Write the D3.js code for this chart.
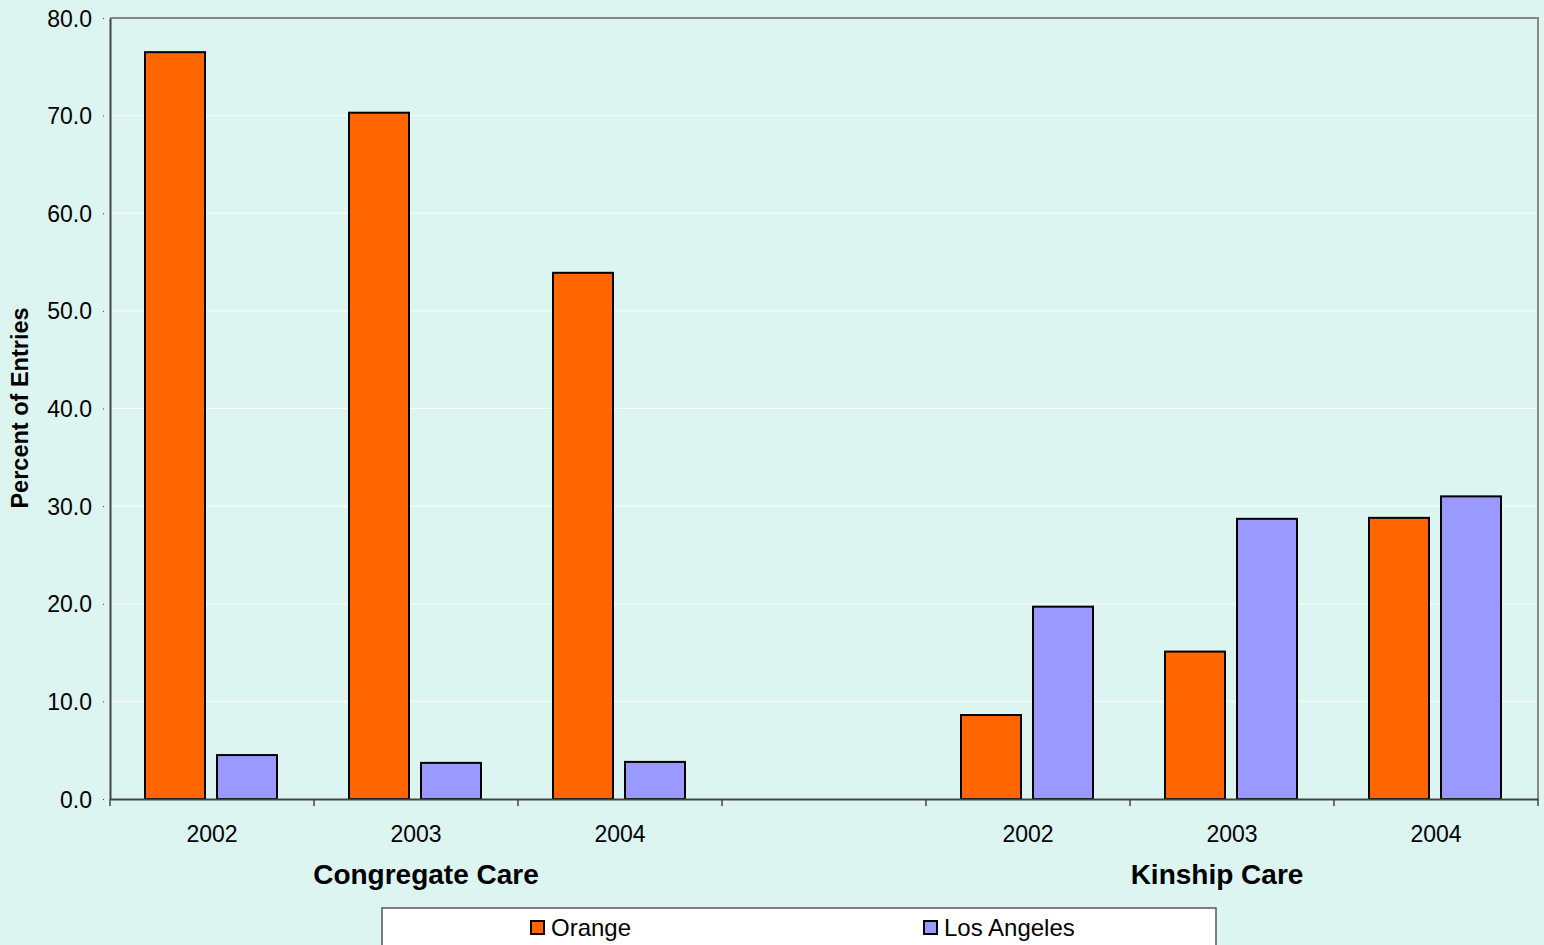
<!DOCTYPE html>
<html><head><meta charset="utf-8">
<script src="https://cdn.jsdelivr.net/npm/d3@7"></script>
<style>body{margin:0;background:#ddf5f1;} svg{display:block;font-family:"Liberation Sans",Arial,sans-serif;}</style>
</head><body>
<svg id="c" width="1544" height="945"></svg>
<script>
const slots = ["c2002","c2003","c2004","gap","k2002","k2003","k2004"];
const slotLabels = ["2002","2003","2004","","2002","2003","2004"];
const groups = ["Congregate Care","Kinship Care"];
const seriesNames = ["Orange","Los Angeles"];
const orangeVals = [76.5, 70.3, 53.9, null, 8.6, 15.1, 28.8];
const laVals = [4.5, 3.7, 3.8, null, 19.7, 28.7, 31.0];
const yTicks = [0,10,20,30,40,50,60,70,80];
const colors = ["#ff6600","#9999ff"];

const svg = d3.select("#c");
const L=110, R=1538, T=18, B=799;
const x = d3.scaleBand().domain(slots).range([L,R]).paddingInner(0).paddingOuter(0);
const y = d3.scaleLinear().domain([0,80]).range([B,T]);

// gridlines
svg.append("g").selectAll("line").data(yTicks.filter(d=>d>0)).join("line")
  .attr("x1",L).attr("x2",R).attr("y1",d=>y(d)).attr("y2",d=>y(d))
  .attr("stroke","#ffffff").attr("stroke-width",1);
// border top/right
svg.append("path").attr("d",`M${L},${T}H${R}V${B}`).attr("fill","none").attr("stroke","#888").attr("stroke-width",2);

// bars
const bw = 60, gap = 12;
const series = [orangeVals, laVals];
series.forEach((vals,si)=>{
  svg.append("g").selectAll("rect").data(slots.map((s,i)=>({s,v:vals[i]})).filter(d=>d.v!=null)).join("rect")
    .attr("x",d=>x(d.s)+x.bandwidth()/2 - (bw+gap/2) + si*(bw+gap) - 1)
    .attr("y",d=>y(d.v)).attr("width",bw).attr("height",d=>y(0)-y(d.v))
    .attr("fill",colors[si]).attr("stroke","#000").attr("stroke-width",2);
});

// y axis
const ya = d3.axisLeft(y).tickValues(yTicks).tickFormat(d3.format(".1f")).tickSize(6).tickSizeOuter(0);
const yg = svg.append("g").attr("transform",`translate(${L},0)`).call(ya);
yg.select(".domain").attr("stroke","#444").attr("stroke-width",2);
yg.selectAll(".tick line").attr("stroke","#444").attr("x1",-7);
yg.selectAll("text").attr("font-size",23).attr("fill","#000").attr("x",-18).attr("dy","0.35em").attr("font-family","Liberation Sans, Arial, sans-serif");

// x axis
const xa = d3.axisBottom(x).tickFormat((d,i)=>slotLabels[i]).tickSize(0);
const xg = svg.append("g").attr("transform",`translate(0,${B})`).call(xa);
xg.select(".domain").attr("stroke","#444").attr("stroke-width",2);
xg.selectAll("text").attr("font-size",23).attr("fill","#000").attr("y",35).attr("dy","0.35em").attr("font-family","Liberation Sans, Arial, sans-serif");
// tick marks at slot boundaries
const bounds = slots.map(s=>x(s)).concat([R]);
svg.append("g").selectAll("line").data(bounds).join("line")
  .attr("x1",d=>d).attr("x2",d=>d).attr("y1",B).attr("y2",B+7).attr("stroke","#444").attr("stroke-width",1.5);

// group labels
const groupCenters = [(x("c2002")+x("gap"))/2+10, (x("k2002")+R)/2 - 15];
svg.append("g").selectAll("text").data(groups).join("text")
  .attr("x",(d,i)=>groupCenters[i]).attr("y",884).attr("text-anchor","middle")
  .attr("font-size",28).attr("font-weight","bold").text(d=>d);

// y title
svg.append("text").attr("transform","translate(28,408) rotate(-90)").attr("text-anchor","middle")
  .attr("font-size",23.5).attr("font-weight","bold").text("Percent of Entries");

// legend
svg.append("rect").attr("x",382).attr("y",908).attr("width",834).attr("height",45).attr("fill","#fff").attr("stroke","#555").attr("stroke-width",1.5);
const legX = [531, 924];
seriesNames.forEach((n,i)=>{
  svg.append("rect").attr("x",legX[i]).attr("y",921).attr("width",13).attr("height",13).attr("fill",colors[i]).attr("stroke","#000").attr("stroke-width",2);
  svg.append("text").attr("x",legX[i]+20).attr("y",936).attr("font-size",24).text(n);
});
</script>
</body></html>
